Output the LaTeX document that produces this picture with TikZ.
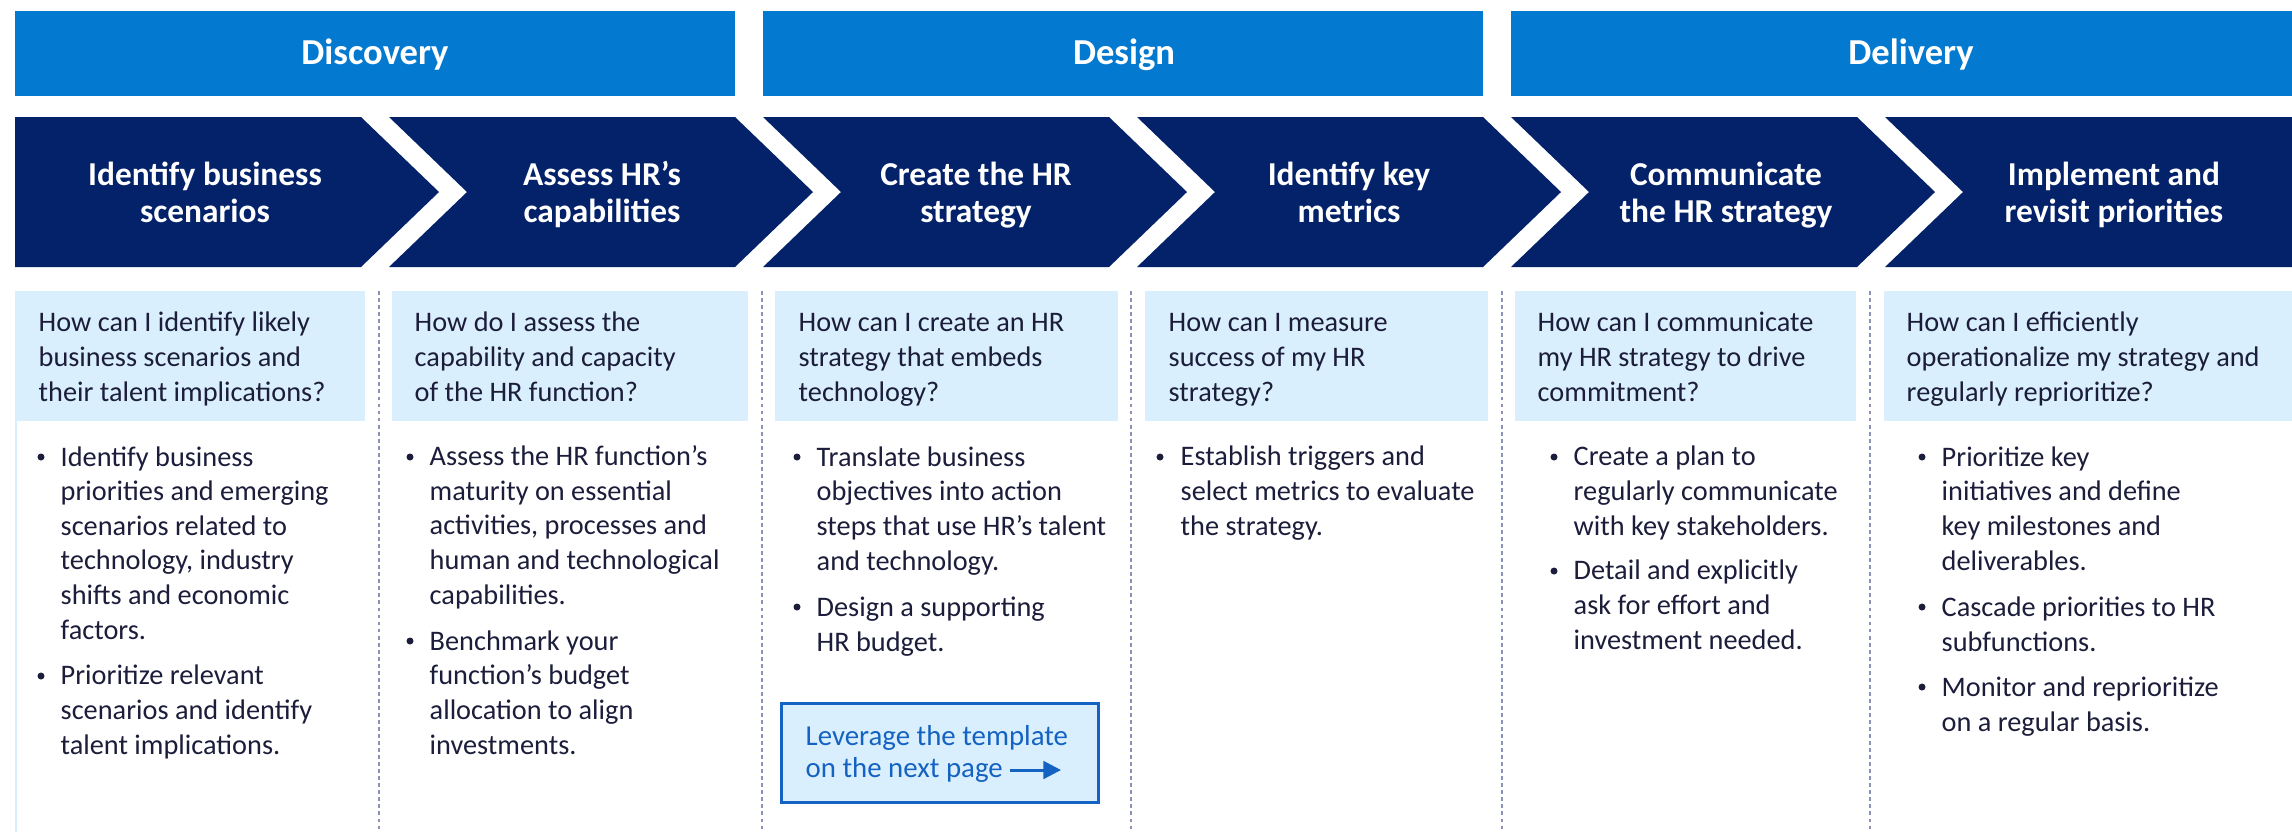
\documentclass[tikz,border=0pt]{standalone}
\usepackage{fontspec}
\setmainfont{Carlito}
\usetikzlibrary{positioning}
\usetikzlibrary{arrows.meta}
\definecolor{phaseblue}{HTML}{0479D0}
\definecolor{stepnavy}{HTML}{04226A}
\definecolor{askbg}{HTML}{DAEFFD}
\definecolor{bodyink}{HTML}{1B1D3A}
\definecolor{linkblue}{HTML}{1462C1}
\definecolor{divgray}{HTML}{8A92B6}

\begin{document}
\begin{tikzpicture}[x=0.01cm, y=-0.01cm,
  phasetext/.style={text=white, font=\fontsize{10.4}{12}\selectfont\bfseries},
  steptext/.style={text=white, align=center, anchor=base, inner sep=0pt, font=\fontsize{9.5}{10.5}\selectfont\bfseries},
  asktext/.style={text=bodyink, align=left, anchor=base west, inner sep=0pt, font=\fontsize{8.05}{9.84}\selectfont},
  dotmark/.style={circle, fill=bodyink, inner sep=0pt, minimum size=0.7mm},
  divline/.style={divgray, line width=0.35pt, dash pattern=on 1.1pt off 0.9pt},
  btnbox/.style={draw=linkblue, fill=askbg, line width=0.85pt, minimum width=3.16cm, minimum height=0.99cm, inner sep=0pt},
  linktext/.style={text=linkblue, anchor=base west, inner sep=0pt, font=\fontsize{8.2}{9.5}\selectfont}]
\useasboundingbox (0,0) rectangle (2292,832);
\clip (0,0) rectangle (2292,832);

\fill[phaseblue] (15,11) rectangle (735,96);
\fill[phaseblue] (763,11) rectangle (1483,96);
\fill[phaseblue] (1511,11) rectangle (2310,96);
\node[phasetext] (discovery) at (375,55) {Discovery};
\node[phasetext] (design) at (1124,55) {Design};
\node[phasetext] (delivery) at (1911,55) {Delivery};

\fill[stepnavy] (15,117) -- (361,117) -- (439,192) -- (361,267) -- (15,267) -- cycle;
\fill[stepnavy] (389,117) -- (735,117) -- (813,192) -- (735,267) -- (389,267) -- (467,192) -- cycle;
\fill[stepnavy] (763,117) -- (1109,117) -- (1187,192) -- (1109,267) -- (763,267) -- (841,192) -- cycle;
\fill[stepnavy] (1137,117) -- (1483,117) -- (1561,192) -- (1483,267) -- (1137,267) -- (1215,192) -- cycle;
\fill[stepnavy] (1511,117) -- (1857,117) -- (1935,192) -- (1857,267) -- (1511,267) -- (1589,192) -- cycle;
\fill[stepnavy] (1885,117) -- (2310,117) -- (2310,267) -- (1885,267) -- (1963,192) -- cycle;
\node[steptext] (scenarios) at (205,222) {Identify business\\scenarios};
\node[steptext] (assess) at (602,222) {Assess HR’s\\capabilities};
\node[steptext] (create) at (976,222) {Create the HR\\strategy};
\node[steptext] (metrics) at (1349,222) {Identify key\\metrics};
\node[steptext] (communicate) at (1726,222) {Communicate\\the HR strategy};
\node[steptext] (implement) at (2114,222) {Implement and\\revisit priorities};

\fill[askbg] (15,291) rectangle (365,421);
\fill[askbg] (392,291) rectangle (748,421);
\fill[askbg] (775,291) rectangle (1118,421);
\fill[askbg] (1145,291) rectangle (1488,421);
\fill[askbg] (1515,291) rectangle (1856,421);
\fill[askbg] (1884,291) rectangle (2300,421);
\draw[askbg, line width=0.6pt] (16,421) -- (16,832);
\draw[divline] (379,291) -- (379,832);
\draw[divline] (762,291) -- (762,832);
\draw[divline] (1131,291) -- (1131,832);
\draw[divline] (1502,291) -- (1502,832);
\draw[divline] (1870,291) -- (1870,832);

\node[asktext] (q1) at (38,401) {How can I identify likely\\business scenarios and\\their talent implications?};
\node[asktext] (q2) at (414,401) {How do I assess the\\capability and capacity\\of the HR function?};
\node[asktext] (q3) at (798,401) {How can I create an HR\\strategy that embeds\\technology?};
\node[asktext] (q4) at (1168,401) {How can I measure\\success of my HR\\strategy?};
\node[asktext] (q5) at (1537,401) {How can I communicate\\my HR strategy to drive\\commitment?};
\node[asktext] (q6) at (1906,401) {How can I efficiently\\operationalize my strategy and\\regularly reprioritize?};

\node[dotmark] (d1a) at (41,457) {};
\node[asktext] (p1a) at (60,639) {Identify business\\priorities and emerging\\scenarios related to\\technology, industry\\shifts and economic\\factors.};
\node[dotmark] (d1b) at (41,676) {};
\node[asktext] (p1b) at (60,754) {Prioritize relevant\\scenarios and identify\\talent implications.};

\node[dotmark] (d2a) at (410,457) {};
\node[asktext] (p2a) at (429,604) {Assess the HR function’s\\maturity on essential\\activities, processes and\\human and technological\\capabilities.};
\node[dotmark] (d2b) at (410,641) {};
\node[asktext] (p2b) at (429,754) {Benchmark your\\function’s budget\\allocation to align\\investments.};

\node[dotmark] (d3a) at (797,457) {};
\node[asktext] (p3a) at (816,570) {Translate business\\objectives into action\\steps that use HR’s talent\\and technology.};
\node[dotmark] (d3b) at (797,607) {};
\node[asktext] (p3b) at (816,651) {Design a supporting\\HR budget.};

\node[btnbox] (tmpl) at (940,753) {};
\node[linktext] (tmpltop) at (805,745) {Leverage the template};
\node[linktext] (tmplbot) at (805,777) {on the next page};
\coordinate (arrtail) at (1010,770);
\coordinate (arrhead) at (1061,770);
\draw[linkblue, line width=0.85pt, -{Triangle[length=5pt, width=5pt]}] (arrtail) -- (arrhead);

\node[dotmark] (d4a) at (1160,457) {};
\node[asktext] (p4a) at (1180,535) {Establish triggers and\\select metrics to evaluate\\the strategy.};

\node[dotmark] (d5a) at (1554,457) {};
\node[asktext] (p5a) at (1573,535) {Create a plan to\\regularly communicate\\with key stakeholders.};
\node[dotmark] (d5b) at (1554,571) {};
\node[asktext] (p5b) at (1573,649) {Detail and explicitly\\ask for effort and\\investment needed.};

\node[dotmark] (d6a) at (1922,457) {};
\node[asktext] (p6a) at (1941,570) {Prioritize key\\initiatives and define\\key milestones and\\deliverables.};
\node[dotmark] (d6b) at (1922,607) {};
\node[asktext] (p6b) at (1941,651) {Cascade priorities to HR\\subfunctions.};
\node[dotmark] (d6c) at (1922,687) {};
\node[asktext] (p6c) at (1941,731) {Monitor and reprioritize\\on a regular basis.};
\end{tikzpicture}
\end{document}
